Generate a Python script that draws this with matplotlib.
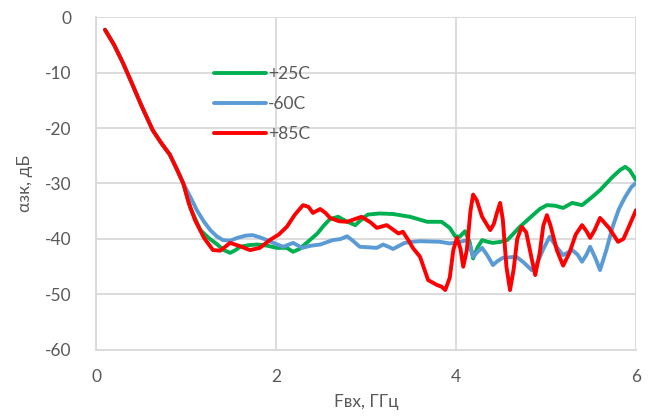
import numpy as np
import matplotlib
matplotlib.use("Agg")
import matplotlib.pyplot as plt

plt.rcParams['font.family'] = ['Lato', 'DejaVu Sans']

# общий начальный участок (все кривые совпадают)
x_start = [0.1, 0.2, 0.3, 0.4, 0.5, 0.63, 0.72, 0.82, 0.9, 0.97]
y_start = [-2.3, -5.0, -8.3, -12.0, -15.8, -20.4, -22.6, -24.8, -27.5, -30.0]

# +25C
x_25 = x_start + [1.05, 1.16, 1.25, 1.34, 1.42, 1.49, 1.55, 1.6, 1.7, 1.79, 1.9, 2.01, 2.12, 2.19,
                  2.26, 2.34, 2.46, 2.53, 2.6, 2.69, 2.78, 2.88, 2.97, 3.02, 3.15, 3.3, 3.49,
                  3.68, 3.84, 3.93, 3.99, 4.04, 4.1, 4.15, 4.19, 4.24, 4.29, 4.35, 4.41, 4.5,
                  4.57, 4.64, 4.71, 4.82, 4.93, 5.01, 5.1, 5.19, 5.29, 5.4, 5.5, 5.6, 5.74,
                  5.82, 5.88, 5.93, 6.0]
y_25 = y_start + [-34.5, -38.4, -39.8, -40.9, -42.0, -42.5, -42.0, -41.4, -41.1, -41.0, -41.2, -41.6, -41.6, -42.3,
                  -41.8, -40.7, -39.0, -37.6, -36.4, -36.0, -36.8, -37.5, -36.2, -35.6, -35.4, -35.5, -36.0,
                  -36.9, -36.9, -38.0, -39.5, -39.6, -38.6, -40.5, -43.5, -41.5, -40.2, -40.5, -40.7, -40.5,
                  -40.2, -39.0, -37.8, -36.2, -34.6, -33.9, -34.0, -34.4, -33.5, -33.9, -32.6, -31.2, -28.8,
                  -27.6, -27.0, -27.6, -29.4]

# -60C
x_60 = x_start + [1.05, 1.12, 1.2, 1.27, 1.34, 1.41, 1.49, 1.57, 1.66, 1.74, 1.82, 1.9, 2.0, 2.08,
                  2.19, 2.29, 2.39, 2.49, 2.63, 2.72, 2.79, 2.86, 2.93, 3.03, 3.12, 3.19, 3.25,
                  3.3, 3.37, 3.43, 3.52, 3.6, 3.82, 3.93, 4.03, 4.12, 4.16, 4.19, 4.24, 4.29,
                  4.35, 4.41, 4.46, 4.52, 4.6, 4.67, 4.75, 4.84, 4.9, 4.97, 5.04, 5.12, 5.19,
                  5.29, 5.35, 5.4, 5.45, 5.49, 5.55, 5.6, 5.67, 5.74, 5.81, 5.88, 5.95, 6.0]
y_60 = y_start + [-32.5, -34.8, -36.9, -38.4, -39.5, -40.2, -40.3, -39.8, -39.4, -39.3, -39.7, -40.2, -40.9, -41.4,
                  -40.7, -41.6, -41.2, -41.0, -40.2, -40.0, -39.5, -40.4, -41.4, -41.5, -41.6, -41.0, -41.4,
                  -41.8, -41.2, -40.7, -40.5, -40.4, -40.5, -40.8, -40.6, -40.2, -41.5, -43.2, -42.3, -41.6,
                  -43.0, -44.7, -44.0, -43.4, -43.3, -43.2, -44.2, -45.6, -44.4, -41.8, -39.6, -41.5, -42.9,
                  -42.0, -42.8, -44.1, -42.8, -41.4, -43.5, -45.6, -42.0, -37.8, -34.6, -32.4, -30.6, -29.9]

# +85C
x_85 = x_start + [1.03, 1.1, 1.2, 1.3, 1.38, 1.49, 1.6, 1.71, 1.82, 1.93, 2.03, 2.12, 2.21, 2.3,
                  2.36, 2.41, 2.49, 2.55, 2.6, 2.7, 2.79, 2.95, 3.05, 3.12, 3.23, 3.3, 3.36,
                  3.41, 3.47, 3.52, 3.6, 3.69, 3.79, 3.84, 3.88, 3.93, 3.97, 4.01, 4.05, 4.08,
                  4.12, 4.16, 4.19, 4.23, 4.29, 4.38, 4.42, 4.46, 4.49, 4.52, 4.56, 4.6, 4.64,
                  4.68, 4.73, 4.78, 4.84, 4.88, 4.93, 4.97, 5.01, 5.05, 5.12, 5.19, 5.26, 5.33,
                  5.4, 5.45, 5.49, 5.54, 5.6, 5.7, 5.8, 5.86, 5.92, 6.0]
y_85 = y_start + [-33.5, -36.6, -39.8, -42.0, -42.1, -40.7, -41.3, -42.0, -41.6, -40.2, -39.2, -37.8, -35.6, -33.9,
                  -34.2, -35.3, -34.6, -35.3, -36.2, -36.8, -36.9, -36.0, -37.0, -38.0, -37.5, -38.3, -39.0,
                  -38.7, -40.2, -41.6, -43.2, -47.4, -48.3, -48.6, -49.2, -47.0, -42.0, -39.8, -41.8, -45.0,
                  -42.0, -35.0, -32.0, -33.0, -36.0, -38.4, -37.3, -35.0, -33.5, -36.5, -45.0, -49.2, -45.5,
                  -40.0, -37.8, -38.8, -43.5, -46.5, -42.5, -37.6, -35.7, -37.6, -42.0, -44.8, -42.5, -39.2,
                  -37.5, -38.6, -39.8, -38.4, -36.2, -38.0, -40.5, -40.0, -37.8, -34.8]

x_ticks = [0, 2, 4, 6]
y_ticks = [0, -10, -20, -30, -40, -50, -60]

fig = plt.figure(figsize=(6.51, 4.2), dpi=100)
ax = fig.add_axes([0.1475, 0.1667, 0.8295, 0.7928])

lw = 2.8
ax.plot(x_25, y_25, color='#00b050', lw=lw, label='+25C', solid_joinstyle='round', solid_capstyle='round')
ax.plot(x_60, y_60, color='#5b9bd5', lw=lw, label='-60C', solid_joinstyle='round', solid_capstyle='round')
ax.plot(x_85, y_85, color='#ff0000', lw=lw, label='+85C', solid_joinstyle='round', solid_capstyle='round')

ax.set_xlim(0, 6)
ax.set_ylim(-60, 0)
ax.set_xticks(x_ticks)
ax.set_yticks(y_ticks)
ax.set_yticklabels([str(v) for v in y_ticks])
ax.grid(True, color='#d9d9d9', lw=1.3)
ax.set_axisbelow(True)
ax.tick_params(length=0, labelsize=12.5, colors='#595959', pad=14)
ax.tick_params(axis='y', pad=18)
for s in ['top', 'right']:
    ax.spines[s].set_visible(False)
for s in ['left', 'bottom']:
    ax.spines[s].set_color('#d9d9d9')
    ax.spines[s].set_linewidth(1.3)

ax.set_xlabel('Fвх, ГГц', fontsize=12.5, color='#595959', labelpad=6)
ax.set_ylabel('αзк, дБ', fontsize=12.5, color='#595959', labelpad=8)

leg = ax.legend(loc='upper left', bbox_to_anchor=(0.19, 0.9), frameon=False,
                fontsize=12.5, handlelength=3.0, handletextpad=0.1, labelspacing=0.8)
for t in leg.get_texts():
    t.set_color('#595959')

fig.savefig('out.png', dpi=100)
